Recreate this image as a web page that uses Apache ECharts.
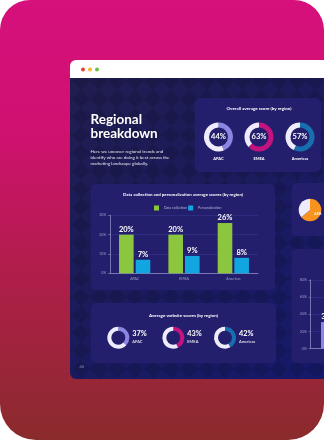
<!DOCTYPE html>
<html>
<head>
<meta charset="utf-8">
<script src="https://cdn.jsdelivr.net/npm/echarts@6/dist/echarts.min.js"></script>
<style>
html,body{margin:0;padding:0;background:#ffffff;}
#chart{width:324px;height:440px;}
</style>
</head>
<body>
<div id="chart"></div>
<script>
// ---- data ----
const regions = ['APAC', 'EMEA', 'Americas'];
const overallScores = [44, 63, 57];
const dataCollection = [20, 20, 26];
const personalization = [7, 9, 8];
const websiteScores = [37, 43, 42];
const sidePieValue = [64];
const sideBarValues = [31];
const legendNames = ['Data collection', 'Personalization'];

// ---- styles ----
const accent = ['#8a86e2', '#c2137f', '#1670b0'];
const ringBg = '#eeecfb';
const cardColor = '#241f6d';
const FONT = 'Lato, "Noto Sans", sans-serif';

// subtle diamond texture for the page background
const pat = document.createElement('canvas');
pat.width = 18; pat.height = 18;
const pctx = pat.getContext('2d');
pctx.fillStyle = 'rgba(0,0,0,0.13)';
pctx.beginPath();
pctx.moveTo(9, 0); pctx.lineTo(18, 9); pctx.lineTo(9, 18); pctx.lineTo(0, 9); pctx.closePath();
pctx.fill();

const chart = echarts.init(document.getElementById('chart'), null, {renderer: 'canvas'});

const graphics = [
  {type: 'rect', shape: {x: 0, y: 0, width: 324, height: 440, r: [30, 30, 36, 36]},
   style: {fill: new echarts.graphic.LinearGradient(0, 0, 0, 1, [
     {offset: 0, color: '#d6107c'}, {offset: 0.3, color: '#cf1170'},
     {offset: 0.6, color: '#b21d4c'}, {offset: 1, color: '#8a2b2c'}])}, z: -10},
  {type: 'rect', shape: {x: 70, y: 60, width: 280, height: 19, r: [6, 0, 0, 0]}, style: {fill: '#ffffff'}, z: -9},
  {type: 'rect', shape: {x: 70, y: 78, width: 280, height: 301, r: [0, 0, 0, 6]},
   style: {fill: new echarts.graphic.LinearGradient(0, 0, 1, 1, [
     {offset: 0, color: '#201d50'}, {offset: 1, color: '#15196c'}])}, z: -9},
  {type: 'rect', shape: {x: 70, y: 78, width: 280, height: 301, r: [0, 0, 0, 6]},
   style: {fill: {image: pat, repeat: 'repeat'}}, z: -9, z2: 1},
  {type: 'circle', shape: {cx: 83, cy: 69.5, r: 2}, style: {fill: '#e8413c'}, z: -8},
  {type: 'circle', shape: {cx: 90, cy: 69.5, r: 2}, style: {fill: '#f5b82e'}, z: -8},
  {type: 'circle', shape: {cx: 97, cy: 69.5, r: 2}, style: {fill: '#6cc04a'}, z: -8},
  // cards
  {type: 'rect', shape: {x: 195, y: 98, width: 126, height: 74, r: 5}, style: {fill: cardColor}, z: -8},
  {type: 'rect', shape: {x: 91, y: 184, width: 184, height: 106, r: 5}, style: {fill: cardColor}, z: -8},
  {type: 'rect', shape: {x: 91, y: 303, width: 185, height: 60, r: 5}, style: {fill: cardColor}, z: -8},
  {type: 'rect', shape: {x: 291.5, y: 183, width: 60, height: 53, r: 5}, style: {fill: cardColor}, z: -8},
  {type: 'rect', shape: {x: 291.5, y: 249, width: 60, height: 114, r: 5}, style: {fill: cardColor}, z: -8},
  // texts
  {type: 'text', x: 90.5, y: 112, style: {text: 'Regional\nbreakdown', fill: '#ffffff', font: 'bold 13.5px ' + FONT, lineHeight: 14.5}},
  {type: 'text', x: 90.5, y: 148.5, style: {text: 'Here we uncover regional trends and\nidentify who are doing it best across the\nmarketing landscape globally.', fill: '#e6e6f2', font: '4.5px ' + FONT, lineHeight: 5.9}},
  {type: 'text', x: 259, y: 109, style: {text: 'Overall average score (by region)', fill: '#ffffff', font: 'bold 4.5px ' + FONT, align: 'center', verticalAlign: 'middle'}},
  {type: 'text', x: 183, y: 194.5, style: {text: 'Data collection and personalization average scores (by region)', fill: '#ffffff', font: 'bold 4.4px ' + FONT, align: 'center', verticalAlign: 'middle'}},
  {type: 'text', x: 183.5, y: 315.7, style: {text: 'Average website scores (by region)', fill: '#ffffff', font: 'bold 4.5px ' + FONT, align: 'center', verticalAlign: 'middle'}},
  {type: 'text', x: 79.5, y: 366.7, style: {text: '44', fill: '#8a8ab4', font: '4px ' + FONT, verticalAlign: 'middle'}}
];

const topCenters = [218.5, 259, 300];
regions.forEach((r, i) => {
  graphics.push({type: 'text', x: topCenters[i], y: 158.5,
    style: {text: r, fill: '#ffffff', font: 'bold 4px ' + FONT, align: 'center', verticalAlign: 'middle'}});
});
const botCenters = [118.3, 173.3, 225];
websiteScores.forEach((v, i) => {
  graphics.push({type: 'text', x: botCenters[i] + 14, y: 333.5,
    style: {text: v + '%', fill: '#ffffff', font: 'bold 7.3px ' + FONT, verticalAlign: 'middle'}});
  graphics.push({type: 'text', x: botCenters[i] + 14, y: 341.5,
    style: {text: regions[i], fill: '#ffffff', font: '4px ' + FONT, verticalAlign: 'middle'}});
});

const series = [];
overallScores.forEach((v, i) => {
  series.push({
    type: 'pie', center: [topCenters[i], 137], radius: [9.5, 14.5], startAngle: 90,
    silent: true, animation: false, label: {show: false}, labelLine: {show: false},
    data: [
      {value: v, itemStyle: {color: accent[i]},
       label: {show: true, position: 'center', formatter: '{c}%', color: '#ffffff', fontSize: 7.5, fontWeight: 'bold', fontFamily: FONT}},
      {value: 100 - v, itemStyle: {color: ringBg}}
    ]
  });
});
websiteScores.forEach((v, i) => {
  series.push({
    type: 'pie', center: [botCenters[i], 337.7], radius: [7, 11], startAngle: 90,
    silent: true, animation: false, label: {show: false}, labelLine: {show: false},
    data: [{value: v, itemStyle: {color: accent[i]}}, {value: 100 - v, itemStyle: {color: ringBg}}]
  });
});
series.push({
  type: 'pie', center: [310, 210], radius: [0, 11.3], startAngle: 90,
  silent: true, animation: false, labelLine: {show: false},
  data: [
    {value: sidePieValue[0], itemStyle: {color: '#f7931e'},
     label: {show: true, position: 'inside', formatter: '{c}%', color: '#ffffff', fontSize: 3.5, fontWeight: 'bold', fontFamily: FONT}},
    {value: 100 - sidePieValue[0], itemStyle: {color: ringBg}, label: {show: false}}
  ]
});

const barLabel = {show: true, position: 'top', distance: 1.5, formatter: '{c}%', color: '#ffffff', fontSize: 7.5, fontWeight: 'bold', fontFamily: FONT};
series.push({type: 'bar', name: legendNames[0], xAxisIndex: 0, yAxisIndex: 0, data: dataCollection,
  barWidth: 14.6, barGap: '14%', itemStyle: {color: '#8cc63e'}, label: barLabel, silent: true, animation: false});
series.push({type: 'bar', name: legendNames[1], xAxisIndex: 0, yAxisIndex: 0, data: personalization,
  barWidth: 14.6, barGap: '14%', itemStyle: {color: '#12a6e0'}, label: barLabel, silent: true, animation: false});
series.push({type: 'bar', xAxisIndex: 1, yAxisIndex: 1, data: sideBarValues,
  barWidth: 14.6, itemStyle: {color: '#8a86e2'}, label: Object.assign({}, barLabel, {fontSize: 7}), silent: true, animation: false});

const axisLabelStyle = {fontSize: 3.5, color: '#9c9cc8', fontFamily: FONT};
const option = {
  animation: false,
  graphic: graphics,
  legend: {
    data: legendNames, left: 149, top: 200.5, itemWidth: 5, itemHeight: 5, itemGap: 1,
    icon: 'rect', textStyle: {fontSize: 3.5, color: '#b4b4d8', fontFamily: FONT}
  },
  grid: [
    {left: 110, top: 215.3, width: 148, height: 58, outerBoundsMode: 'none', containLabel: false},
    {left: 310.7, top: 280, width: 105.6, height: 68.7, outerBoundsMode: 'none', containLabel: false}
  ],
  xAxis: [
    {type: 'category', gridIndex: 0, data: regions,
     axisLine: {lineStyle: {color: '#8c8cc0', width: 0.8}}, axisTick: {show: false},
     axisLabel: Object.assign({margin: 4}, axisLabelStyle)},
    {type: 'category', gridIndex: 1, data: regions,
     axisLine: {lineStyle: {color: '#8c8cc0', width: 0.8}}, axisTick: {show: false},
     axisLabel: {show: false}}
  ],
  yAxis: [
    {type: 'value', gridIndex: 0, min: 0, max: 30, interval: 10,
     axisLine: {show: true, lineStyle: {color: '#8c8cc0', width: 0.8}},
     axisTick: {show: true, length: 2, lineStyle: {color: '#8c8cc0', width: 0.6}},
     splitLine: {lineStyle: {color: '#35358e', width: 0.6}},
     axisLabel: Object.assign({margin: 4, formatter: '{value}%'}, axisLabelStyle)},
    {type: 'value', gridIndex: 1, min: 0, max: 80, interval: 20,
     axisLine: {show: true, lineStyle: {color: '#8c8cc0', width: 0.8}},
     axisTick: {show: true, length: 2, lineStyle: {color: '#8c8cc0', width: 0.6}},
     splitLine: {lineStyle: {color: '#35358e', width: 0.6}},
     axisLabel: Object.assign({margin: 4, formatter: '{value}%'}, axisLabelStyle)}
  ],
  series: series
};
chart.setOption(option);
</script>
</body>
</html>
